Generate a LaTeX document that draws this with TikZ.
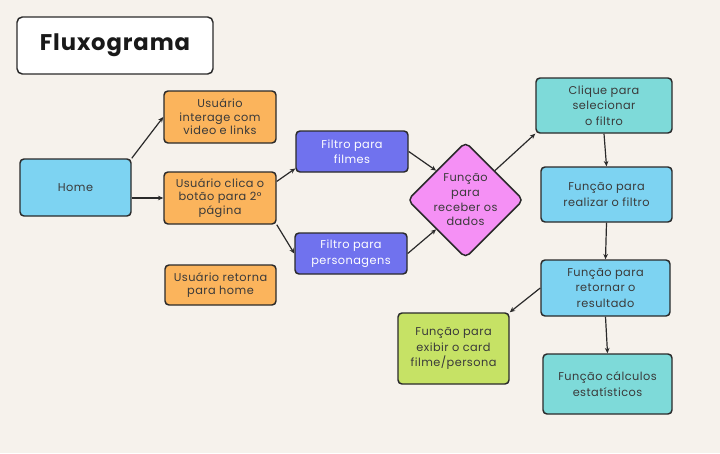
\documentclass[tikz,border=0pt]{standalone}
\usepackage{fontspec}
\setmainfont{Poppins}[LetterSpace=4]
\newfontfamily\titlefont{Poppins}[LetterSpace=4]
\usetikzlibrary{shapes.geometric,arrows.meta,calc}
\definecolor{bgc}{HTML}{F6F2EC}
\definecolor{lblue}{HTML}{7DD3F2}
\definecolor{orng}{HTML}{FBB45C}
\definecolor{purp}{HTML}{7072EE}
\definecolor{pnk}{HTML}{F590F5}
\definecolor{teal2}{HTML}{7EDAD9}
\definecolor{grn}{HTML}{C6E265}
\definecolor{edge}{HTML}{2A2A2A}
\definecolor{txt}{HTML}{3A3A3A}
\tikzset{
  sz/.style 2 args={minimum width=#1*0.75pt, minimum height=#2*0.75pt},
  box/.style={draw=edge, line width=1.1pt, rounded corners=3pt, inner sep=0pt, align=center,
    font=\fontsize{8.5}{11.6}\selectfont, text=txt},
  tight/.style={font=\fontsize{8.5}{10.2}\selectfont},
  conn/.style={draw=edge, line width=0.9pt, -{Stealth[length=4pt,width=3.5pt]}},
}
\begin{document}
\begin{tikzpicture}[x=0.75pt,y=-0.75pt]
\fill[bgc] (0,0) rectangle (720,453);
\useasboundingbox (0,0) rectangle (720,453);
\node[box, fill=white, sz={196}{57}, rounded corners=4pt, font=\titlefont\bfseries\fontsize{17}{20}\selectfont, text=black!90] (title) at (115,45.5) {Fluxograma};
\node[box, fill=lblue, sz={111}{57}] (home) at (75.5,187.5) {Home};
\node[box, tight, fill=orng, sz={112}{52}] (interage) at (220,117) {Usuário\\interage com\\video e links};
\node[box, tight, fill=orng, sz={112}{52}] (clica) at (220,198) {Usuário clica o\\botão para 2°\\página};
\node[box, tight, fill=orng, sz={111}{40}] (retorna) at (220.5,285) {Usuário retorna\\para home};
\node[box, fill=purp, sz={112}{41}, text=white] (filmes) at (352,151.5) {Filtro para\\filmes};
\node[box, fill=purp, sz={112}{41}, text=white] (personagens) at (351,253.5) {Filtro para\\personagens};
\node[box, diamond, fill=pnk, sz={109}{106}, rounded corners=4pt, font=\fontsize{8.5}{11}\selectfont] (diam) at (465.5,200) {Função\\para\\receber os\\dados};
\node[box, fill=teal2, sz={136}{55}] (clique) at (604,105.5) {Clique para\\selecionar\\o filtro};
\node[box, fill=lblue, sz={131}{55}] (realizar) at (606.5,194.5) {Função para\\realizar o filtro};
\node[box, fill=lblue, sz={129}{56}] (retornar) at (605.5,288) {Função para\\retornar o\\resultado};
\node[box, fill=grn, sz={111}{71}] (exibir) at (453.5,348.5) {Função para\\exibir o card\\filme/persona};
\node[box, fill=teal2, sz={129}{60}] (calculos) at (607.5,384) {Função cálculos\\estatísticos};
\draw[conn] (home.north east) -- (interage.west);
\draw[conn] (clica.west -| home.east) -- (clica.west);
\draw[conn] ($(clica.north east)!0.19!(clica.south east)$) -- ($(filmes.north west)!0.9!(filmes.south west)$);
\draw[conn] (clica.south east) -- (personagens.west);
\draw[conn] (filmes.east) -- (diam.north west);
\draw[conn] (personagens.east) -- (diam.south west);
\draw[conn] (diam.north east) -- (clique.south west);
\draw[conn] (clique.south) -- (realizar.north);
\draw[conn] (realizar.south) -- (retornar.north);
\draw[conn] (retornar.west) -- (exibir.north east);
\draw[conn] (retornar.south) -- (calculos.north);
\end{tikzpicture}
\end{document}
